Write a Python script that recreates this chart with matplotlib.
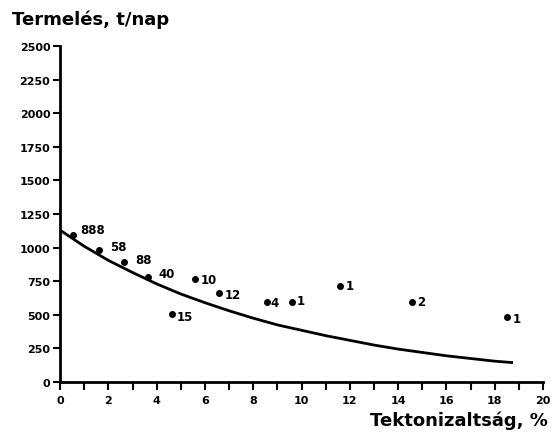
import matplotlib.pyplot as plt
from matplotlib.ticker import MultipleLocator

# measured points (tectonization %, production t/day) and their labels
pt_x = [0.53, 1.62, 2.65, 3.63, 5.59, 6.6, 4.62, 8.56, 9.62, 11.59, 14.56, 18.5]
pt_y = [1094, 984, 890, 783, 766, 660, 508, 593, 597, 716, 597, 481]
pt_labels = ['888', '58', '88', '40', '10', '12', '15', '4', '1', '1', '2', '1']

# trend curve
curve_x = [0, 1, 2, 3, 4, 5, 6, 7, 8, 9, 10, 11, 12, 13, 14, 15, 16, 17, 18, 18.7]
curve_y = [1130, 1010, 905, 815, 730, 655, 590, 530, 475, 425, 385, 345, 310,
           275, 245, 220, 195, 175, 155, 145]

x_ticks = [0, 2, 4, 6, 8, 10, 12, 14, 16, 18, 20]
y_ticks = [0, 250, 500, 750, 1000, 1250, 1500, 1750, 2000, 2250, 2500]

# label offsets in points (dx, dy)
offsets = [(5, 4), (8, 2), (8, 2), (8, 2), (4, 0), (4, -1), (4, -2),
           (3, 0), (3, 1), (4, 0), (4, 0), (4, -1)]

fig = plt.figure(figsize=(5.51, 4.35), dpi=100)
ax = fig.add_axes([0.109, 0.1195, 0.8765, 0.7725])

ax.plot(curve_x, curve_y, color='black', lw=2)
ax.plot(pt_x, pt_y, 'o', color='black', ms=4)
for x, y, lab, off in zip(pt_x, pt_y, pt_labels, offsets):
    ax.annotate(lab, (x, y), xytext=off, textcoords='offset points',
                fontsize=8.5, fontweight='bold', ha='left', va='center')

ax.set_xlim(0, 20)
ax.set_ylim(0, 2500)
ax.set_xticks(x_ticks)
ax.set_yticks(y_ticks)
ax.xaxis.set_minor_locator(MultipleLocator(1))
ax.tick_params(axis='both', which='both', direction='out', width=1.5,
               labelsize=8)
ax.tick_params(axis='x', which='both', length=6)
ax.tick_params(axis='y', length=5, pad=2)
for lab in ax.get_xticklabels() + ax.get_yticklabels():
    lab.set_fontweight('bold')

for s in ['top', 'right']:
    ax.spines[s].set_visible(False)
for s in ['left', 'bottom']:
    ax.spines[s].set_linewidth(2)

fig.text(0.022, 0.955, 'Termelés, t/nap', fontsize=13, fontweight='bold',
         ha='left', va='center')
fig.text(0.995, 0.032, 'Tektonizaltság, %', fontsize=13, fontweight='bold',
         ha='right', va='center')

fig.savefig('out.png', dpi=100)
